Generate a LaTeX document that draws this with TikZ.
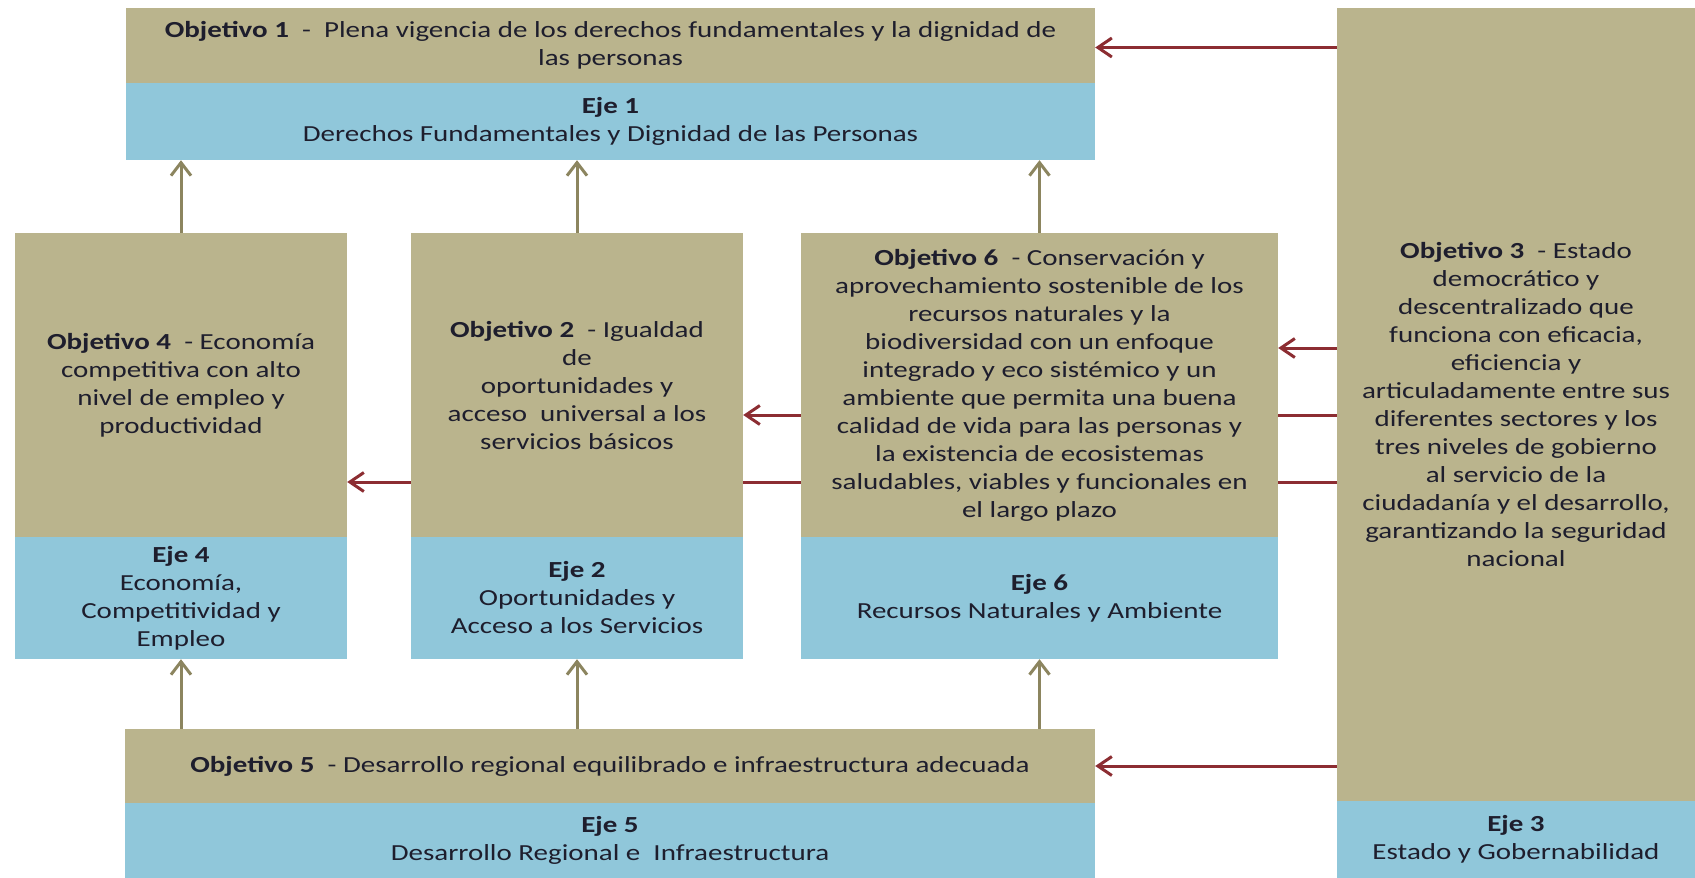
\documentclass[tikz,border=0pt]{standalone}
\usepackage{fontspec}
\setmainfont{Carlito}[FakeStretch=1.26]
\usetikzlibrary{arrows.meta,backgrounds}

\definecolor{objtan}{RGB}{186,180,141}
\definecolor{ejeblue}{RGB}{144,199,218}
\definecolor{linkred}{RGB}{140,45,50}
\definecolor{linkolive}{RGB}{140,133,95}
\definecolor{textdark}{RGB}{30,30,45}

\tikzset{
    objbox/.style={rectangle, fill=objtan, inner sep=0pt, align=center,
        text=textdark, font=\fontsize{23}{28}\selectfont},
    ejebox/.style={rectangle, fill=ejeblue, inner sep=0pt, align=center,
        text=textdark, font=\fontsize{23}{28}\selectfont},
    redarrow/.style={draw=linkred, line width=3pt,
        -{Straight Barb[length=14pt,width=19pt,line width=3pt]}},
    redline/.style={draw=linkred, line width=3pt},
    olivearrow/.style={draw=linkolive, line width=3pt,
        -{Straight Barb[length=13pt,width=20pt,line width=3pt]}}
}

\begin{document}
\begin{tikzpicture}[x=1pt,y=-1pt]
    \useasboundingbox (0,0) rectangle (1695,878);

    % Eje 1 at the top
    \node[objbox, minimum width=969pt, minimum height=75pt] (obj1) at (610.5,45.5)
        {\textbf{Objetivo 1}~ - ~Plena vigencia de los derechos fundamentales y la dignidad de\\las personas};
    \node[ejebox, minimum width=969pt, minimum height=77pt] (eje1) at (610.5,121.5)
        {\textbf{Eje 1}\\Derechos Fundamentales y Dignidad de las Personas};

    % Middle row
    \node[objbox, minimum width=332pt, minimum height=304pt] (obj4) at (181,385)
        {\textbf{Objetivo 4}~ - Economía\\competitiva con alto\\nivel de empleo y\\productividad};
    \node[ejebox, minimum width=332pt, minimum height=122pt] (eje4) at (181,598)
        {\textbf{Eje 4}\\Economía,\\Competitividad y\\Empleo};

    \node[objbox, minimum width=332pt, minimum height=304pt] (obj2) at (577,385)
        {\textbf{Objetivo 2}~ - Igualdad\\de\\oportunidades y\\acceso~ universal a los\\servicios básicos};
    \node[ejebox, minimum width=332pt, minimum height=122pt] (eje2) at (577,598)
        {\textbf{Eje 2}\\Oportunidades y\\Acceso a los Servicios};

    \node[objbox, minimum width=477pt, minimum height=304pt] (obj6) at (1039.5,385)
        {\textbf{Objetivo 6}~ - Conservación y\\aprovechamiento sostenible de los\\recursos naturales y la\\biodiversidad con un enfoque\\integrado y eco sistémico y un\\ambiente que permita una buena\\calidad de vida para las personas y\\la existencia de ecosistemas\\saludables, viables y funcionales en\\el largo plazo};
    \node[ejebox, minimum width=477pt, minimum height=122pt] (eje6) at (1039.5,598)
        {\textbf{Eje 6}\\Recursos Naturales y Ambiente};

    % Eje 3 on the right
    \node[objbox, minimum width=358pt, minimum height=793pt] (obj3) at (1516,404.5)
        {\textbf{Objetivo 3}~ - Estado\\democrático y\\descentralizado que\\funciona con eficacia,\\eficiencia y\\articuladamente entre sus\\diferentes sectores y los\\tres niveles de gobierno\\al servicio de la\\ciudadanía y el desarrollo,\\garantizando la seguridad\\nacional};
    \node[ejebox, minimum width=358pt, minimum height=77pt] (eje3) at (1516,839.5)
        {\textbf{Eje 3}\\Estado y Gobernabilidad};

    % Eje 5 at the bottom
    \node[objbox, minimum width=970pt, minimum height=74pt] (obj5) at (610,766)
        {\textbf{Objetivo 5}~ - Desarrollo regional equilibrado e infraestructura adecuada};
    \node[ejebox, minimum width=970pt, minimum height=75pt] (eje5) at (610,840.5)
        {\textbf{Eje 5}\\Desarrollo Regional e~ Infraestructura};

    % Upward arrows
    \foreach \mid in {obj4,obj2,obj6} {
        \draw[olivearrow] (\mid.north) -- (\mid.north |- eje1.south);
    }
    \foreach \mid in {eje4,eje2,eje6} {
        \draw[olivearrow] (\mid.south |- obj5.north) -- (\mid.south);
    }

    % Arrows from Objetivo 3
    \draw[redarrow] ([yshift=-2pt]obj1.east -| obj3.west) -- ([yshift=-2pt]obj1.east);
    \draw[redarrow] ([yshift=37pt]obj6.east -| obj3.west) -- ([yshift=37pt]obj6.east);
    \draw[redarrow] (obj5.east -| obj3.west) -- (obj5.east);
    \begin{scope}[on background layer]
        \draw[redline] ([yshift=-30pt]obj2.east -| obj3.west) -- ([yshift=-30pt]obj6.east);
        \draw[redarrow] ([yshift=-30pt]obj6.west) -- ([yshift=-30pt]obj2.east);
        \draw[redline] ([yshift=-97pt]obj4.east -| obj3.west) -- ([yshift=-97pt]obj2.east);
        \draw[redarrow] ([yshift=-97pt]obj2.west) -- ([yshift=-97pt]obj4.east);
    \end{scope}
\end{tikzpicture}
\end{document}
